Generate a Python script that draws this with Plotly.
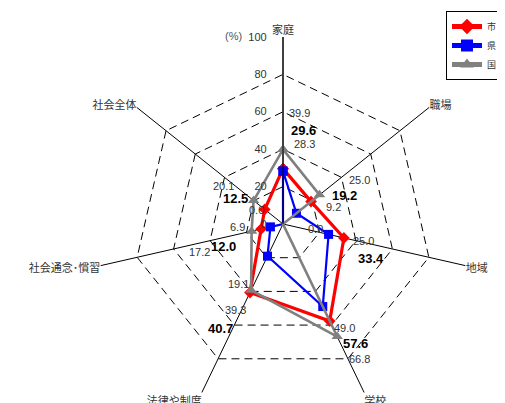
import plotly.graph_objects as go

categories = ["家庭", "職場", "地域", "学校", "法律や制度", "社会通念･慣習", "社会全体"]
series_names = ["市", "県", "国"]
city = [29.6, 19.2, 33.4, 57.6, 40.7, 12.0, 12.5]
pref = [28.3, 9.2, 25.0, 49.0, 19.1, 6.9, 0.0]
nation = [39.9, 25.0, 0.0, 66.8, 39.3, 17.2, 20.1]
radial_ticks = [0, 20, 40, 60, 80, 100]

# layout geometry
W, H = 505, 403
R = 187.0
CX, CY = 275.0, H - R  # pixel centre (from top)

# label positions, normalised (reference pixel frame: centre 275,222, radius 190.5)
REF_C = (275.0, 222.0)
REF_R = 190.5
lab_pos_nation = [(292, 109), (353, 177), (308, 227), (353, 360), (227, 310), (190, 251), (214, 183)]
lab_pos_city = [(296, 127), (338, 193), (365, 257), (349, 344), (211, 328), (214, 245), (227, 196)]
lab_pos_pref = [(297, 141), (326, 205), (357, 239), (338, 328), (230, 283), (229, 225), (248, 208)]


def to_paper(p):
    u = (p[0] - REF_C[0]) / REF_R
    v = (REF_C[1] - p[1]) / REF_R
    x = CX + u * R
    y = CY - v * R
    return x / W, 1 - y / H


styles = [
    dict(color="#FF0000", width=3.2, symbol="diamond", size=9),
    dict(color="#0000FF", width=2.2, symbol="square", size=9),
    dict(color="#808080", width=2.6, symbol="triangle-up", size=10),
]

fig = go.Figure()
for name, vals, st in zip(series_names, [city, pref, nation], styles):
    fig.add_trace(go.Scatterpolar(
        r=vals + [vals[0]],
        theta=categories + [categories[0]],
        mode="lines+markers",
        name=name,
        line=dict(color=st["color"], width=st["width"]),
        marker=dict(color=st["color"], symbol=st["symbol"], size=st["size"]),
        cliponaxis=False,
    ))

annotations = []
for vals, pos, bold in [(nation, lab_pos_nation, False), (city, lab_pos_city, True), (pref, lab_pos_pref, False)]:
    for v, p in zip(vals, pos):
        x, y = to_paper(p)
        txt = f"{v:.1f}"
        annotations.append(dict(
            x=x, y=y, xref="paper", yref="paper", showarrow=False,
            text=f"<b>{txt}</b>" if bold else txt,
            font=dict(family="Liberation Sans, Arial", size=13 if bold else 11,
                      color="#000000" if bold else "#333333"),
            xanchor="center", yanchor="middle",
        ))

ux, uy = to_paper((225, 30))
annotations.append(dict(x=ux, y=uy, xref="paper", yref="paper", showarrow=False,
                        text="(%)", font=dict(family="Liberation Sans, Arial", size=11, color="#555555"),
                        xanchor="center", yanchor="middle"))

fig.update_layout(
    width=W, height=H,
    margin=dict(l=0, r=0, t=0, b=0, autoexpand=False),
    paper_bgcolor="white",
    plot_bgcolor="white",
    font=dict(family="Noto Sans CJK JP, Liberation Sans, sans-serif", color="#333333"),
    showlegend=True,
    legend=dict(x=438 / W, y=1 - 3 / H, xanchor="left", yanchor="top",
                bordercolor="black", borderwidth=1, bgcolor="white",
                font=dict(size=9, family="Noto Sans CJK JP", color="#333333"),
                tracegroupgap=0, itemsizing="constant"),
    annotations=annotations,
    polar=dict(
        domain=dict(x=[(CX - R) / W, (CX + R) / W], y=[0, 2 * R / H]),
        bgcolor="white",
        gridshape="linear",
        radialaxis=dict(
            range=[0, 100], tickvals=radial_ticks, ticktext=[str(t) for t in radial_ticks],
            angle=90, tickangle=90, side="counterclockwise",
            showline=True, linecolor="black", linewidth=1,
            gridcolor="black", gridwidth=1, griddash="8px,5px",
            ticks="outside", ticklen=12, tickcolor="rgba(0,0,0,0)",
            tickfont=dict(size=11, family="Liberation Sans, Arial", color="#333333"),
        ),
        angularaxis=dict(
            direction="clockwise", rotation=90,
            showline=False,
            gridcolor="black", gridwidth=1,
            ticks="", tickfont=dict(size=11, color="#333333"),
        ),
    ),
)

fig.write_html("out.html")
